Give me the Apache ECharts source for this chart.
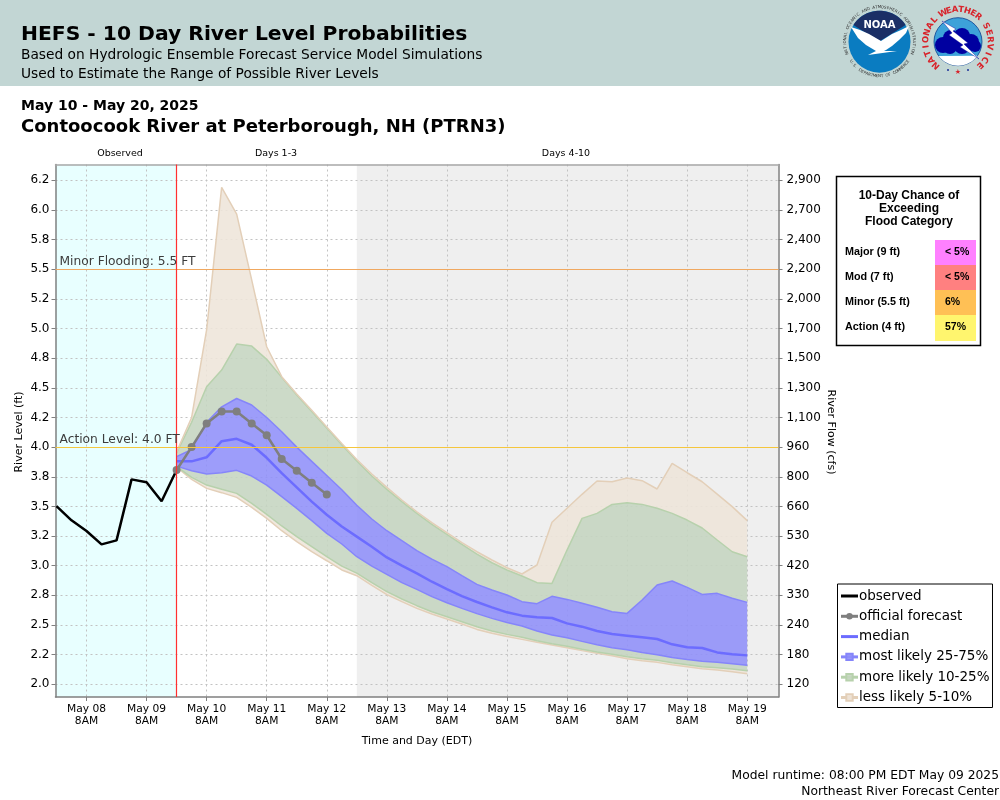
<!DOCTYPE html>
<html>
<head>
<meta charset="utf-8">
<title>HEFS - 10 Day River Level Probabilities</title>
<style>
  html, body { margin: 0; padding: 0; background: #fff; }
  #chart { width: 1000px; height: 800px; }
</style>
</head>
<body>
<div id="chart"></div>
<script src="https://cdn.jsdelivr.net/npm/echarts@6/dist/echarts.min.js"></script>
<script type="text/javascript">
// hours are counted from May 08 8AM
var xTickHours = [0, 24, 48, 72, 96, 120, 144, 168, 192, 216, 240, 264];
var xTickDays = ['May 08', 'May 09', 'May 10', 'May 11', 'May 12', 'May 13', 'May 14', 'May 15', 'May 16', 'May 17', 'May 18', 'May 19'];

var yTickValues = [2, 2.25, 2.5, 2.75, 3, 3.25, 3.5, 3.75, 4, 4.25, 4.5, 4.75, 5, 5.25, 5.5, 5.75, 6, 6.25];
var stageLabels = ['2.0', '2.2', '2.5', '2.8', '3.0', '3.2', '3.5', '3.8', '4.0', '4.2', '4.5', '4.8', '5.0', '5.2', '5.5', '5.8', '6.0', '6.2'];
var flowLabels = ['120', '180', '240', '330', '420', '530', '660', '800', '960', '1,100', '1,300', '1,500', '1,700', '2,000', '2,200', '2,400', '2,700', '2,900'];

var observedHours = [-12, -6, 0, 6, 12, 18, 24, 30, 36];
var observed = [3.503, 3.383, 3.293, 3.18, 3.214, 3.728, 3.703, 3.543, 3.807];

var officialHours = [36, 42, 48, 54, 60, 66, 72, 78, 84, 90, 96];
var official = [3.807, 4.0, 4.2, 4.3, 4.3, 4.2, 4.1, 3.9, 3.8, 3.7, 3.6];

var forecastHours = [36, 42, 48, 54, 60, 66, 72, 78, 84, 90, 96, 102, 108, 114, 120, 126, 132, 138, 144, 150, 156, 162, 168, 174, 180, 186, 192, 198, 204, 210, 216, 222, 228, 234, 240, 246, 252, 258, 264];
var upper95 = [3.96, 4.25, 4.99, 6.19, 5.965, 5.41, 4.846, 4.594, 4.447, 4.31, 4.17, 4.03, 3.895, 3.773, 3.661, 3.554, 3.455, 3.363, 3.278, 3.194, 3.118, 3.048, 2.983, 2.93, 3.006, 3.366, 3.484, 3.602, 3.714, 3.708, 3.739, 3.717, 3.647, 3.863, 3.784, 3.708, 3.604, 3.498, 3.38];
var upper90 = [3.95, 4.21, 4.509, 4.65, 4.869, 4.852, 4.74, 4.588, 4.439, 4.301, 4.161, 4.02, 3.883, 3.756, 3.644, 3.54, 3.441, 3.349, 3.264, 3.18, 3.098, 3.025, 2.964, 2.913, 2.857, 2.851, 3.132, 3.399, 3.441, 3.517, 3.531, 3.517, 3.484, 3.441, 3.385, 3.318, 3.217, 3.118, 3.076];
var upper75 = [3.92, 3.98, 4.21, 4.34, 4.41, 4.355, 4.25, 4.13, 4.0, 3.88, 3.76, 3.64, 3.51, 3.394, 3.295, 3.211, 3.127, 3.056, 2.992, 2.916, 2.843, 2.795, 2.753, 2.697, 2.68, 2.742, 2.716, 2.683, 2.649, 2.612, 2.598, 2.711, 2.837, 2.871, 2.817, 2.758, 2.767, 2.725, 2.691];
var median = [3.88, 3.88, 3.914, 4.05, 4.07, 4.02, 3.91, 3.78, 3.66, 3.54, 3.43, 3.33, 3.245, 3.16, 3.07, 3.0, 2.935, 2.865, 2.803, 2.744, 2.694, 2.649, 2.607, 2.579, 2.565, 2.559, 2.514, 2.486, 2.449, 2.424, 2.41, 2.396, 2.382, 2.337, 2.312, 2.306, 2.269, 2.253, 2.244];
var lower25 = [3.84, 3.801, 3.773, 3.784, 3.804, 3.756, 3.68, 3.582, 3.484, 3.38, 3.273, 3.183, 3.076, 2.997, 2.927, 2.857, 2.801, 2.739, 2.688, 2.64, 2.596, 2.556, 2.522, 2.491, 2.449, 2.416, 2.393, 2.362, 2.334, 2.309, 2.292, 2.269, 2.25, 2.227, 2.21, 2.194, 2.185, 2.174, 2.16];
var lower10 = [3.835, 3.745, 3.68, 3.644, 3.61, 3.526, 3.433, 3.335, 3.245, 3.16, 3.076, 2.997, 2.938, 2.857, 2.781, 2.719, 2.663, 2.612, 2.57, 2.528, 2.486, 2.449, 2.421, 2.396, 2.368, 2.342, 2.32, 2.295, 2.272, 2.253, 2.233, 2.216, 2.202, 2.182, 2.165, 2.149, 2.14, 2.129, 2.115];
var lower5 = [3.83, 3.728, 3.652, 3.616, 3.576, 3.492, 3.399, 3.295, 3.203, 3.118, 3.042, 2.964, 2.916, 2.834, 2.756, 2.697, 2.64, 2.593, 2.55, 2.508, 2.463, 2.43, 2.404, 2.379, 2.354, 2.331, 2.309, 2.284, 2.261, 2.241, 2.216, 2.199, 2.185, 2.165, 2.149, 2.132, 2.12, 2.106, 2.09];

var floodCategories = ['Major (9 ft)', 'Mod (7 ft)', 'Minor (5.5 ft)', 'Action (4 ft)'];
var floodChances = ['< 5%', '< 5%', '6%', '57%'];
var floodColors = ['#ff80ff', '#ff8080', '#ffc055', '#fff56e'];

var runtimeHour = 36;
var daysBreakHour = 108;
var xMin = -12.39, xMax = 276.5;
var yMin = 1.893, yMax = 6.383;

var TAN = 'rgba(238,229,218,0.88)', GREEN = 'rgba(197,213,192,0.88)', BLUE = 'rgba(144,144,249,0.88)';
var TAN_EDGE = '#e3cfb8', GREEN_EDGE = '#b7d1ac', BLUE_EDGE = '#8585fa';
var GRID_LINE = { color: '#c2c2c2', type: [2, 3], width: 1 };

function pairs(xs, ys) {
  return ys.map(function (y, i) { return [xs[i], y]; });
}
// stacked rows are [level, hour] with encode below, so the stack runs on the level and not on the hours
function levelRows(values) {
  return values.map(function (v, i) { return [v, forecastHours[i]]; });
}
function diff(top, bottom) {
  return top.map(function (v, i) { return [+(v - bottom[i]).toFixed(3), forecastHours[i]]; });
}
function band(name, values, fill, edge) {
  return {
    name: name,
    type: 'line',
    stack: 'bands',
    stackStrategy: 'all',
    data: values,
    encode: { x: 1, y: 0 },
    symbol: 'rect',
    showSymbol: false,
    z: 2,
    itemStyle: { color: fill, borderColor: edge, borderWidth: 1 },
    lineStyle: { color: edge, width: 1.5 },
    areaStyle: { color: fill, opacity: 1 }
  };
}

// letters set one by one round a circle, angles in radians from top (clockwise)
function ringTop(str, cx, cy, r, from, to, font, color) {
  var out = [];
  for (var i = 0; i < str.length; i++) {
    var a = from + (to - from) * (i + 0.5) / str.length;
    out.push({ type: 'text', x: cx + r * Math.sin(a), y: cy - r * Math.cos(a), rotation: -a,
      style: { text: str[i], font: font, fill: color, textAlign: 'center', textVerticalAlign: 'middle' } });
  }
  return out;
}
function ringBottom(str, cx, cy, r, from, to, font, color) {
  var out = [];
  for (var i = 0; i < str.length; i++) {
    var a = from + (to - from) * (i + 0.5) / str.length;
    out.push({ type: 'text', x: cx + r * Math.sin(a), y: cy + r * Math.cos(a), rotation: a,
      style: { text: str[i], font: font, fill: color, textAlign: 'center', textVerticalAlign: 'middle' } });
  }
  return out;
}
function arcPoints(cx, cy, r, from, to, n) {
  var pts = [];
  for (var i = 0; i <= n; i++) {
    var a = from + (to - from) * i / n;
    pts.push([cx + r * Math.sin(a), cy - r * Math.cos(a)]);
  }
  return pts;
}
function label(text, x, y, font, fill, align, rotation) {
  return { type: 'text', x: x, y: y + 1, rotation: rotation || 0,
    style: { text: text, font: font, fill: fill || '#000', textAlign: align || 'left', textVerticalAlign: 'middle' } };
}

var DJ = '"DejaVu Sans"', LB = '"Liberation Sans"';
var graphics = [
  { type: 'rect', shape: { x: 0, y: 0, width: 1000, height: 86 }, style: { fill: '#c2d6d4' } },
  label('HEFS - 10 Day River Level Probabilities', 21, 33.5, 'bold 20.3px ' + DJ),
  label('Based on Hydrologic Ensemble Forecast Service Model Simulations', 21, 54, '13.75px ' + DJ),
  label('Used to Estimate the Range of Possible River Levels', 21, 73, '13.75px ' + DJ),
  label('May 10 - May 20, 2025', 21, 105, 'bold 14px ' + DJ),
  label('Contoocook River at Peterborough, NH (PTRN3)', 21, 126, 'bold 18px ' + DJ),
  label('Observed', 120, 153, '9.5px ' + DJ, '#000', 'center'),
  label('Days 1-3', 276, 153, '9.5px ' + DJ, '#000', 'center'),
  label('Days 4-10', 566, 153, '9.5px ' + DJ, '#000', 'center'),
  label('River Level (ft)', 19, 431, '11px ' + DJ, '#000', 'center', Math.PI / 2),
  label('River Flow (cfs)', 831, 431, '11px ' + DJ, '#000', 'center', -Math.PI / 2),
  label('Time and Day (EDT)', 417, 740, '11px ' + DJ, '#000', 'center'),
  label('Model runtime: 08:00 PM EDT May 09 2025', 999, 775, '12.3px ' + DJ, '#000', 'right'),
  label('Northeast River Forecast Center', 999, 791, '12.3px ' + DJ, '#000', 'right'),

  // flood category table
  { type: 'rect', shape: { x: 836.5, y: 176.5, width: 144, height: 169 }, style: { fill: '#fff', stroke: '#000', lineWidth: 1.5 } },
  label('10-Day Chance of', 909, 195, 'bold 12px ' + LB, '#000', 'center'),
  label('Exceeding', 909, 208, 'bold 12px ' + LB, '#000', 'center'),
  label('Flood Category', 909, 221, 'bold 12px ' + LB, '#000', 'center')
];
floodCategories.forEach(function (name, i) {
  graphics.push({ type: 'rect', shape: { x: 935, y: 240 + i * 25, width: 41, height: i === 3 ? 26 : 25 }, style: { fill: floodColors[i] } });
  graphics.push(label(name, 845, 251 + i * 25, 'bold 10.8px ' + LB));
  graphics.push(label(floodChances[i], 945, 251 + i * 25, 'bold 10.5px ' + LB));
});

// NOAA emblem
graphics.push({ type: 'circle', shape: { cx: 879.5, cy: 41.7, r: 31 }, style: { fill: '#0a7cc1' } });
graphics.push({ type: 'polygon', shape: { points: arcPoints(879.5, 41.7, 31, -1.0, 1.0, 24).concat([[893, 33], [880, 41], [866, 33]]) }, style: { fill: '#1b2f66' } });
graphics.push({ type: 'polygon', shape: { points: [[851, 27], [860, 30], [869, 34], [881, 41], [892, 34], [901, 30], [909, 26], [906, 33], [899, 40], [892, 46], [886, 50], [884, 51], [897, 51], [868, 55], [876, 51], [866, 45], [858, 38]] }, style: { fill: '#fff' } });
graphics.push(label('NOAA', 879.5, 24, 'bold 10px ' + DJ, '#fff', 'center'));
graphics = graphics.concat(
  ringTop('NATIONAL OCEANIC AND ATMOSPHERIC ADMINISTRATION', 879.5, 41.7, 34.5, -1.95, 1.95, '4px ' + DJ, '#333'),
  ringBottom('U.S. DEPARTMENT OF COMMERCE', 879.5, 41.7, 34.5, -1, 1, '4px ' + DJ, '#333')
);

// NWS emblem
graphics.push({ type: 'circle', shape: { cx: 958, cy: 41.7, r: 24 }, style: { fill: '#3da2d9', stroke: '#0b3f8f', lineWidth: 0.8 } });
graphics.push({ type: 'polygon', shape: { points: arcPoints(958, 41.7, 24, 2.2, 4.08, 16) }, style: { fill: '#fff' } });
[[943, 45, 8], [951, 38, 8], [962, 36, 8], [971, 42, 8], [975, 46, 6], [962, 46, 8], [950, 47, 7]].forEach(function (c) {
  graphics.push({ type: 'circle', shape: { cx: c[0], cy: c[1], r: c[2] }, style: { fill: '#0000a0' } });
});
graphics.push({ type: 'polygon', shape: { points: [[942, 21], [956, 29], [953, 31], [968, 43], [964, 44], [979, 59], [960, 47], [963, 45], [949, 35], [952, 33]] }, style: { fill: '#fff', stroke: '#0000a0', lineWidth: 0.4 } });
graphics = graphics.concat(
  ringTop('NATIONAL', 958, 41.7, 32, -2.5, -0.72, 'bold 8.5px ' + DJ, '#d8232a'),
  ringTop('WEATHER', 958, 41.7, 32, -0.58, 0.78, 'bold 8.5px ' + DJ, '#d8232a'),
  ringTop('SERVICE', 958, 41.7, 32, 0.95, 2.5, 'bold 8.5px ' + DJ, '#d8232a')
);
graphics.push(label('\u2605', 958, 71, 'bold 7px ' + DJ, '#d8232a', 'center'));
graphics.push({ type: 'circle', shape: { cx: 948, cy: 70, r: 1 }, style: { fill: '#1b2f99' } });
graphics.push({ type: 'circle', shape: { cx: 968, cy: 70, r: 1 }, style: { fill: '#1b2f99' } });

var myChart = echarts.init(document.getElementById('chart'), null, { renderer: 'canvas' });

var option = {
  animation: false,
  backgroundColor: '#fff',
  textStyle: { fontFamily: 'DejaVu Sans' },
  graphic: { elements: graphics },
  grid: { left: 55.5, top: 164.5, width: 723, height: 532.5, show: false },
  legend: {
    left: 837.5, top: 584, orient: 'vertical', selectedMode: false,
    backgroundColor: '#fff', borderColor: '#000', borderWidth: 1, padding: [5, 3, 3, 2],
    itemWidth: 17, itemHeight: 8, itemGap: 6.3,
    textStyle: { fontFamily: 'DejaVu Sans', fontSize: 13.5, color: '#000', padding: [0, 0, 0, -4] },
    data: [
      { name: 'observed', itemStyle: { opacity: 0 }, lineStyle: { width: 3 } },
      { name: 'official forecast', lineStyle: { width: 3 } },
      { name: 'median', itemStyle: { opacity: 0 }, lineStyle: { width: 3 } },
      { name: 'most likely 25-75%', lineStyle: { width: 3 } },
      { name: 'more likely 10-25%', lineStyle: { width: 3 } },
      { name: 'less likely 5-10%', lineStyle: { width: 3 } }
    ]
  },
  xAxis: [
    {
      type: 'value', min: xMin, max: xMax, z: 1.5,
      axisLine: { onZero: false, lineStyle: { color: '#808080', width: 1.5 } },
      axisTick: { customValues: xTickHours, length: 4, lineStyle: { color: '#808080' } },
      axisLabel: {
        customValues: xTickHours, margin: 6, color: '#000', fontSize: 10.7, lineHeight: 12,
        formatter: function (v) { return xTickDays[xTickHours.indexOf(v)] + '\n8AM'; }
      },
      splitLine: { show: true, lineStyle: GRID_LINE }
    },
    // top edge of the plot only
    {
      type: 'value', position: 'top', min: xMin, max: xMax, z: 1.5,
      axisLine: { onZero: false, lineStyle: { color: '#a8a8a8', width: 1.5 } },
      axisTick: { show: false }, axisLabel: { show: false }, splitLine: { show: false }
    }
  ],
  yAxis: [
    {
      type: 'value', min: yMin, max: yMax, z: 1.5,
      axisLine: { show: true, onZero: false, lineStyle: { color: '#808080', width: 1.5 } },
      axisTick: { show: true, customValues: yTickValues, length: 4, lineStyle: { color: '#808080' } },
      axisLabel: {
        customValues: yTickValues, margin: 6, color: '#000', fontSize: 12, padding: [2, 0, 0, 0],
        formatter: function (v) { return stageLabels[yTickValues.indexOf(v)]; }
      },
      splitLine: { show: true, lineStyle: GRID_LINE }
    },
    {
      type: 'value', position: 'right', min: yMin, max: yMax, z: 1.5,
      axisLine: { show: true, onZero: false, lineStyle: { color: '#808080', width: 1.5 } },
      axisTick: { show: true, customValues: yTickValues, length: 4, lineStyle: { color: '#808080' } },
      axisLabel: {
        customValues: yTickValues, margin: 8, color: '#000', fontSize: 12, padding: [2, 0, 0, 0],
        formatter: function (v) { return flowLabels[yTickValues.indexOf(v)]; }
      },
      splitLine: { show: false }
    }
  ],
  series: [
    // lowest edge, nothing filled under it
    {
      name: 'lower 5', type: 'line', stack: 'bands', stackStrategy: 'all', symbol: 'none', z: 2,
      data: levelRows(lower5),
      encode: { x: 1, y: 0 },
      lineStyle: { color: TAN_EDGE, width: 1.5 },
      markArea: {
        silent: true, z: 1,
        data: [
          [{ xAxis: xMin, itemStyle: { color: '#e8ffff' } }, { xAxis: runtimeHour }],
          [{ xAxis: daysBreakHour, itemStyle: { color: '#efefef' } }, { xAxis: xMax }]
        ]
      }
    },
    band('lower 5-10', diff(lower10, lower5), TAN, GREEN_EDGE),
    band('lower 10-25', diff(lower25, lower10), GREEN, BLUE_EDGE),
    band('most likely 25-75%', diff(upper75, lower25), BLUE, BLUE_EDGE),
    band('more likely 10-25%', diff(upper90, upper75), GREEN, GREEN_EDGE),
    band('less likely 5-10%', diff(upper95, upper90), TAN, TAN_EDGE),
    {
      name: 'median', type: 'line', symbol: 'circle', showSymbol: false, z: 3,
      data: pairs(forecastHours, median),
      itemStyle: { color: '#6c6cff' },
      lineStyle: { color: '#6c6cff', width: 2.5 }
    },
    {
      name: 'official forecast', type: 'line', symbol: 'circle', symbolSize: 8, z: 4,
      data: pairs(officialHours, official),
      itemStyle: { color: '#7f7f7f' },
      lineStyle: { color: '#7f7f7f', width: 2.5 }
    },
    {
      name: 'observed', type: 'line', symbol: 'circle', showSymbol: false, z: 4,
      data: pairs(observedHours, observed),
      itemStyle: { color: '#000' },
      lineStyle: { color: '#000', width: 2.5 },
      markLine: {
        silent: true, symbol: 'none', animation: false,
        label: { position: 'insideStartTop', distance: 1, color: '#3c3c3c', fontFamily: 'DejaVu Sans', fontSize: 12.25, padding: [0, 0, 0, 3] },
        data: [
          { yAxis: 5.5, lineStyle: { color: '#f0a860', width: 1.2, type: 'solid' }, label: { formatter: 'Minor Flooding: 5.5 FT' } },
          { yAxis: 4, lineStyle: { color: '#f5c63c', width: 1.2, type: 'solid' }, label: { formatter: 'Action Level: 4.0 FT' } },
          { xAxis: runtimeHour, lineStyle: { color: '#ff3030', width: 1.2, type: 'solid' }, label: { show: false } }
        ]
      }
    }
  ]
};
myChart.setOption(option);
</script>
</body>
</html>
